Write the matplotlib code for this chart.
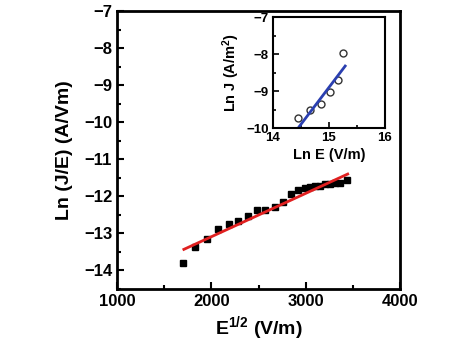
import numpy as np
import matplotlib
matplotlib.use("Agg")
import matplotlib.pyplot as plt
from matplotlib.ticker import MultipleLocator

plt.rcParams['font.family'] = ['Liberation Sans', 'DejaVu Sans']
plt.rcParams['font.weight'] = 'bold'
plt.rcParams['axes.labelweight'] = 'bold'
plt.rcParams['mathtext.fontset'] = 'custom'
plt.rcParams['mathtext.bf'] = 'Liberation Sans:bold'
plt.rcParams['mathtext.default'] = 'bf'

# main data: Ln(J/E) vs E^1/2
e_half = [1698, 1824, 1954, 2070, 2186, 2284, 2386, 2484, 2572, 2674, 2761,
          2842, 2923, 2997, 3050, 3102, 3154, 3207, 3260, 3312, 3365, 3435]
ln_je = [-13.79, -13.36, -13.14, -12.88, -12.74, -12.67, -12.52, -12.38, -12.38,
         -12.30, -12.16, -11.95, -11.83, -11.78, -11.75, -11.73, -11.71, -11.68,
         -11.66, -11.65, -11.63, -11.57]
fit_range = [1708, 3445]
fit_slope = 0.00117
fit_intercept = -15.43

# inset data: Ln J vs Ln E
ln_e = [14.44, 14.67, 14.86, 15.01, 15.16, 15.26]
ln_j = [-9.72, -9.50, -9.35, -9.02, -8.70, -7.98]
inset_fit_range = [14.47, 15.29]
inset_slope = 1.99
inset_intercept = -38.75

fig = plt.figure(figsize=(4.74, 3.55), dpi=100)
ax = fig.add_axes([0.247, 0.186, 0.597, 0.783])

ax.plot(e_half, ln_je, 's', color='black', ms=5)
fx = np.array(fit_range)
ax.plot(fx, fit_slope * fx + fit_intercept, color='#e02020', lw=2)

ax.set_xlim(1000, 4000)
ax.set_ylim(-14.5, -7)
ax.xaxis.set_major_locator(MultipleLocator(1000))
ax.xaxis.set_minor_locator(MultipleLocator(500))
ax.yaxis.set_major_locator(MultipleLocator(1))
ax.yaxis.set_minor_locator(MultipleLocator(0.5))
ax.tick_params(which='both', direction='in', width=1.5, labelsize=12)
ax.tick_params(which='major', length=5)
ax.tick_params(which='minor', length=3)
for s in ax.spines.values():
    s.set_linewidth(2)
ax.set_xlabel(r'E$^{1/2}$ (V/m)', fontsize=14, labelpad=4)
ax.set_ylabel('Ln (J/E) (A/Vm)', fontsize=14, labelpad=8)

# inset
ins = fig.add_axes([0.576, 0.639, 0.236, 0.313])
ins.plot(ln_e, ln_j, 'o', mfc='none', mec='#333333', ms=5, mew=1)
ix = np.array(inset_fit_range)
ins.plot(ix, inset_slope * ix + inset_intercept, color='#2a3fb0', lw=2)
ins.set_xlim(14, 16)
ins.set_ylim(-10, -7)
ins.xaxis.set_major_locator(MultipleLocator(1))
ins.xaxis.set_minor_locator(MultipleLocator(0.5))
ins.yaxis.set_major_locator(MultipleLocator(1))
ins.yaxis.set_minor_locator(MultipleLocator(0.5))
ins.tick_params(which='both', direction='in', width=1.2, labelsize=9.5, pad=3)
ins.tick_params(which='major', length=4)
ins.tick_params(which='minor', length=2.5)
for s in ins.spines.values():
    s.set_linewidth(1.5)
ins.set_xlabel('Ln E (V/m)', fontsize=10.5, labelpad=3)
ins.set_ylabel(r'Ln J (A/m$^{2}$)', fontsize=10.5, labelpad=3)

fig.savefig('out.png', dpi=100)
